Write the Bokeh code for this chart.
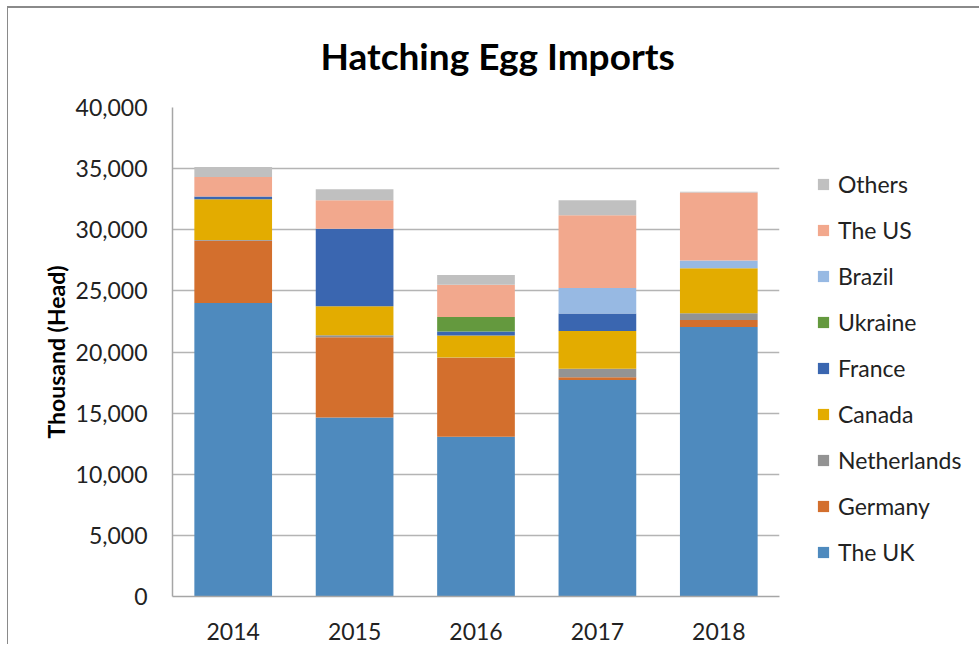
from bokeh.plotting import figure
from bokeh.layouts import column
from bokeh.models import FactorRange, Range1d, FixedTicker, NumeralTickFormatter, Legend, LegendItem, Title
from bokeh.embed import file_html
from bokeh.resources import INLINE

years = ["2014", "2015", "2016", "2017", "2018"]
series_names = ["The UK", "Germany", "Netherlands", "Canada", "France", "Ukraine", "Brazil", "The US", "Others"]
uk = [24000, 14650, 13060, 17700, 22040]
germany = [5100, 6550, 6460, 230, 570]
netherlands = [60, 160, 40, 690, 550]
canada = [3340, 2380, 1780, 3090, 3700]
france = [210, 6350, 330, 1430, 0]
ukraine = [0, 0, 1200, 0, 0]
brazil = [0, 0, 0, 2100, 630]
us = [1610, 2330, 2630, 5940, 5560]
others = [820, 900, 800, 1240, 60]
colors = ["#4E8ABE", "#D36F2D", "#939393", "#E3AC00", "#3A66B0", "#64993E", "#97B9E3", "#F2A88D", "#C0C0C0"]
y_ticks = [0, 5000, 10000, 15000, 20000, 25000, 30000, 35000, 40000]
title_text = "Hatching Egg Imports"

data = {"year": years}
keys = ["uk", "germany", "netherlands", "canada", "france", "ukraine", "brazil", "us", "others"]
for k, v in zip(keys, [uk, germany, netherlands, canada, france, ukraine, brazil, us, others]):
    data[k] = v

FONT = "Lato"
p = figure(x_range=FactorRange(*years, range_padding=0), y_range=Range1d(0, 40000),
           frame_width=606, frame_height=487, output_backend="svg", toolbar_location=None,
           min_border_left=164, min_border_right=190, min_border_top=99, min_border_bottom=50,
           title=None)

spacer = Title(text=" ", text_font_size="1px", standoff=8)
p.add_layout(spacer, "above")
title = Title(text=title_text, align="left", offset=148, standoff=37,
              text_font=FONT, text_font_size="37px", text_font_style="bold",
              text_color="#000000")
p.add_layout(title, "above")

renderers = p.vbar_stack(keys, x="year", width=0.64, color=colors, line_color=None, source=data)

p.outline_line_color = None
p.background_fill_color = "white"
p.border_fill_color = "white"
p.styles = {"border-left": "1px solid #8a8a8a", "border-top": "2px solid #8a8a8a"}

p.xgrid.grid_line_color = None
p.ygrid.grid_line_color = "#B4B4B4"
p.ygrid.grid_line_width = 1.5
p.ygrid.ticker = FixedTicker(ticks=y_ticks)

p.yaxis.ticker = FixedTicker(ticks=y_ticks)
p.yaxis.formatter = NumeralTickFormatter(format="0,0")
for ax in (p.xaxis[0], p.yaxis[0]):
    ax.major_tick_line_color = None
    ax.minor_tick_line_color = None
    ax.axis_line_color = "#A6A6A6"
    ax.axis_line_width = 1.5
    ax.major_label_text_font = FONT
    ax.major_label_text_font_size = "23px"
    ax.major_label_text_color = "#222222"
p.yaxis.major_label_standoff = 19
p.xaxis.major_label_standoff = 20
p.yaxis.axis_label = "Thousand (Head)"
p.yaxis.axis_label_text_font = FONT
p.yaxis.axis_label_text_font_size = "23px"
p.yaxis.axis_label_text_font_style = "bold"
p.yaxis.axis_label_text_color = "#000000"
p.yaxis.axis_label_standoff = 3

items = [LegendItem(label=name, renderers=[r]) for name, r in zip(series_names, renderers)][::-1]
legend = Legend(items=items, location=(37, 30), padding=0, margin=0,
                border_line_color=None, background_fill_alpha=0,
                glyph_width=14, glyph_height=14, label_height=20, spacing=18,
                label_standoff=8, label_text_font=FONT, label_text_font_size="23px",
                label_text_color="#222222")
p.add_layout(legend, "right")

lay = column(p, styles={"padding-left": "7px", "padding-top": "6px"})
open("out.html", "w").write(file_html(lay, INLINE))
